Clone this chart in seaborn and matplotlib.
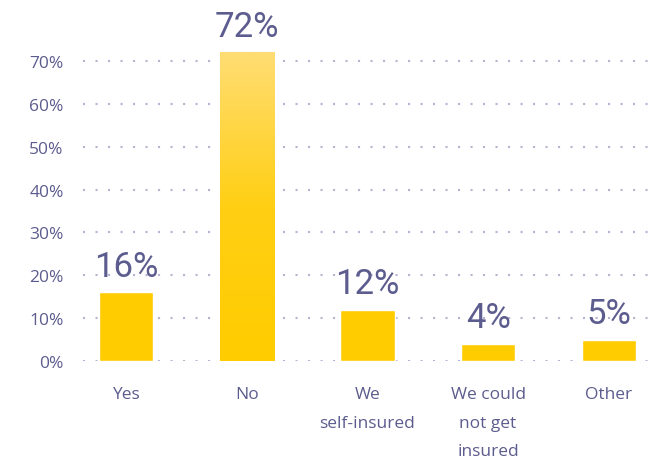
import numpy as np
import pandas as pd
import matplotlib.pyplot as plt
import matplotlib.colors as mcolors
import seaborn as sns

categories = ['Yes', 'No', 'We\nself-insured', 'We could\nnot get\ninsured', 'Other']
values = [16, 72, 12, 4, 5]
yticks = [0, 10, 20, 30, 40, 50, 60, 70]

txt = '#5c5c8e'
bar_col = '#ffcc00'

sns.set_style('white')
plt.rcParams['font.family'] = ['Open Sans', 'DejaVu Sans']

df = pd.DataFrame({'cat': categories, 'val': values})

fig = plt.figure(figsize=(6.54, 4.64), dpi=100)
ax = fig.add_axes([0.127, 0.2198, 0.873, 0.739])

for t in yticks:
    ax.axhline(t, color='#b4b4d2', lw=1.5, linestyle=(0, (1, 5)), zorder=0)

sns.barplot(data=df, x='cat', y='val', color=bar_col, width=0.45,
            saturation=1, ax=ax, zorder=2)

# gradient on the tallest bar
p = ax.patches[1]
x0, y0 = p.get_x(), p.get_y()
w, h = p.get_width(), p.get_height()
cmap = mcolors.LinearSegmentedColormap.from_list('g', ['#ffcc00', '#ffcf14', '#ffdd73'])
grad = np.linspace(0, 1, 200).reshape(-1, 1)
im = ax.imshow(grad, extent=[x0, x0 + w, y0, y0 + h], origin='lower',
               cmap=cmap, aspect='auto', zorder=3)
im.set_clip_path(p)

for i, v in enumerate(values):
    ax.annotate(f'{v}%', (i, v), xytext=(0, 7), textcoords='offset points',
                ha='center', va='bottom', fontsize=25, color=txt,
                family=['Roboto', 'DejaVu Sans'])

ax.set_xlim(-0.356, 4.375)
ax.set_ylim(0, 80)
ax.set_yticks(yticks)
ax.set_yticklabels([f'{t}%' for t in yticks], color=txt, fontsize=12.5)
ax.set_xticks(range(len(categories)))
ax.set_xticklabels(categories, color=txt, fontsize=12.5, linespacing=2.05, va='top')
ax.tick_params(axis='x', length=0, pad=18)
ax.tick_params(axis='y', length=0, pad=14)
ax.set_xlabel('')
ax.set_ylabel('')
sns.despine(ax=ax, left=True, bottom=True)

fig.savefig('out.png', dpi=100)
